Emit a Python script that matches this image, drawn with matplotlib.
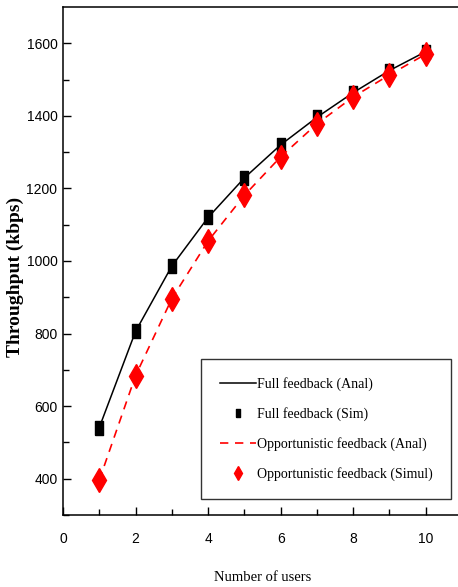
import matplotlib.pyplot as plt
import numpy as np

# number of users
users = [1, 2, 3, 4, 5, 6, 7, 8, 9, 10]

# throughput (kbps)
full_anal = [541, 806, 986, 1120, 1229, 1320, 1396, 1464, 1525, 1577]
full_sim = [541, 806, 986, 1120, 1229, 1320, 1396, 1464, 1525, 1577]
opp_anal = [396, 684, 896, 1055, 1181, 1287, 1378, 1452, 1513, 1570]
opp_sim = [396, 684, 896, 1055, 1181, 1287, 1378, 1452, 1513, 1570]

xticks = [0, 2, 4, 6, 8, 10]
yticks = [400, 600, 800, 1000, 1200, 1400, 1600]

tick_font = ['Liberation Sans', 'DejaVu Sans']
serif_font = ['Liberation Serif', 'DejaVu Serif']

fig = plt.figure(figsize=(4.58, 5.87), dpi=100)
ax = fig.add_axes([63 / 458, 72 / 587, 399 / 458, 508 / 587])

# tall, narrow markers (the original picture is stretched vertically)
rect = [(-0.29, -0.5), (0.29, -0.5), (0.29, 0.5), (-0.29, 0.5), (-0.29, -0.5)]

ax.plot(users, full_anal, color='black', lw=1.1, label='Full feedback (Anal)')
ax.plot(users, full_sim, ls='none', marker=rect, ms=10, color='black',
        label='Full feedback (Sim)')
ax.plot(users, opp_anal, color='red', lw=1.2, dashes=(5, 4),
        label='Opportunistic feedback (Anal)')
ax.plot(users, opp_sim, ls='none', marker='d', ms=12.5, color='red',
        label='Opportunistic feedback (Simul)')

ax.set_xlim(0, 11)
ax.set_ylim(300, 1700)
ax.set_xticks(xticks)
ax.set_yticks(yticks)
ax.set_xticks(np.arange(1, 11, 2), minor=True)
ax.set_yticks(np.arange(300, 1700, 200), minor=True)

ax.tick_params(which='both', direction='in', width=1)
ax.tick_params(which='major', length=6)
ax.tick_params(which='minor', length=4)
ax.tick_params(axis='x', pad=12)
ax.tick_params(axis='y', pad=4)
for lab in ax.get_xticklabels() + ax.get_yticklabels():
    lab.set_family(tick_font)
    lab.set_fontsize(10)

for sp in ax.spines.values():
    sp.set_linewidth(1.1)

ax.set_xlabel('Number of users', family=serif_font, fontsize=10.5, labelpad=18)
ax.set_ylabel('Throughput (kbps)', family=serif_font, fontsize=14,
              fontweight='bold')
ax.yaxis.set_label_coords(-0.098, 0.468)

leg = ax.legend(loc='lower right', bbox_to_anchor=(0.972, 0.031),
                prop={'family': serif_font, 'size': 10},
                frameon=True, fancybox=False, edgecolor='black',
                handlelength=2.6, handletextpad=0.1, labelspacing=1.15,
                markerscale=0.6, borderpad=1.3, borderaxespad=0)
leg.get_frame().set_linewidth(1.0)

fig.savefig('out.png', dpi=100)
